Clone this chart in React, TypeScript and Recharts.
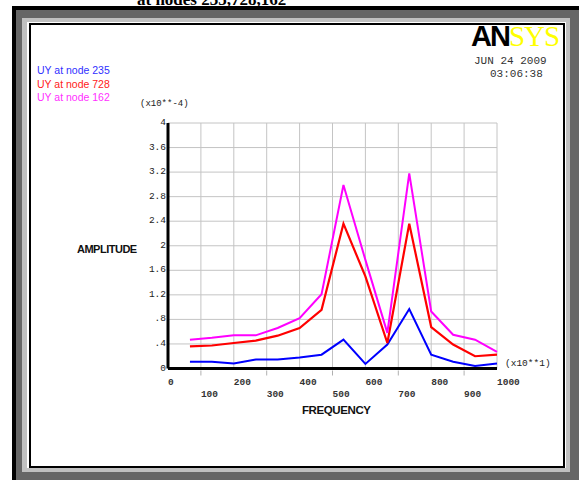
import { LineChart, Line, XAxis, YAxis, CartesianGrid } from 'recharts';

// frequency (x10**1)
const freq = [66.7, 133.3, 200, 266.7, 333.3, 400, 466.7, 533.3, 600, 666.7, 733.3, 800, 866.7, 933.3, 1000];
// amplitude (x10**-4)
const node235 = [0.11, 0.11, 0.08, 0.145, 0.145, 0.18, 0.225, 0.47, 0.075, 0.39, 0.97, 0.225, 0.11, 0.04, 0.08];
const node728 = [0.36, 0.375, 0.415, 0.455, 0.535, 0.66, 0.955, 2.36, 1.5, 0.415, 2.36, 0.675, 0.39, 0.2, 0.225];
const node162 = [0.47, 0.5, 0.54, 0.54, 0.66, 0.82, 1.21, 2.99, 1.77, 0.58, 3.18, 0.93, 0.55, 0.47, 0.27];

const xTicks = [0, 100, 200, 300, 400, 500, 600, 700, 800, 900, 1000];
const yTicks = [0, 0.4, 0.8, 1.2, 1.6, 2, 2.4, 2.8, 3.2, 3.6, 4];

const data = freq.map((f, i) => ({ freq: f, n235: node235[i], n728: node728[i], n162: node162[i] }));

const mono = '"Liberation Mono", "DejaVu Sans Mono", monospace';
const sans = '"Liberation Sans", Arial, sans-serif';

const XTick = (props: any) => {
  const { x, y, payload } = props;
  const odd = Math.round(payload.value / 100) % 2 === 1;
  return (
    <g>
      {odd && <line x1={x} x2={x} y1={y + 2} y2={y + 7} stroke="#b0b0b0" />}
      <text x={x} y={odd ? y + 28 : y + 16} textAnchor="start" fontFamily={mono} fontSize={9.5} fontWeight="bold" fill="#333">
        {payload.value}
      </text>
    </g>
  );
};

const fmtY = (v: number) => {
  const s = String(Math.round(v * 10) / 10);
  return s.startsWith('0.') ? s.slice(1) : s;
};

const YTick = (props: any) => {
  const { x, y, payload } = props;
  return (
    <text x={x} y={y + 2} textAnchor="end" fontFamily={mono} fontSize={9.5} fill="#222">
      {fmtY(payload.value)}
    </text>
  );
};

const abs = (left: number, top: number, extra: any = {}) => ({ position: 'absolute' as const, left, top, lineHeight: 1, whiteSpace: 'nowrap' as const, ...extra });

export default function App() {
  return (
    <div style={{ position: 'absolute', left: 0, top: 0, width: 579, height: 480, background: '#fff', overflow: 'hidden' }}>
      <div style={abs(137, -9, { fontFamily: '"Liberation Serif", serif', fontWeight: 'bold', fontSize: 17, color: '#000' })}>
        at nodes 235,728,162
      </div>
      {/* frame */}
      <div style={abs(12, 6, { width: 567, height: 474, background: '#000' })} />
      <div style={abs(16, 10, { width: 563, height: 470, background: '#666' })} />
      <div style={abs(22, 18, { width: 548, height: 454, background: '#c0c0c0' })} />
      <div style={abs(27, 22, { width: 539, height: 446, background: '#fff' })} />
      <div style={abs(29, 23, { width: 532, height: 441, border: '2px solid #000', background: '#fff' })} />

      {/* legend */}
      <div style={abs(37, 65, { fontFamily: sans, fontSize: 10.5, color: '#3030ff' })}>UY at node 235</div>
      <div style={abs(37, 78.5, { fontFamily: sans, fontSize: 10.5, color: '#ff2020' })}>UY at node 728</div>
      <div style={abs(37, 92, { fontFamily: sans, fontSize: 10.5, color: '#ff30ff' })}>UY at node 162</div>

      {/* logo + date */}
      <div style={abs(471, 22, { fontSize: 29 })}>
        <span style={{ fontFamily: sans, fontWeight: 900, color: '#000', letterSpacing: -2 }}>AN</span>
        <span style={{ fontFamily: '"Liberation Serif", serif', color: '#ffff00', letterSpacing: -1 }}>SYS</span>
      </div>
      <div style={abs(474, 56, { fontFamily: mono, fontSize: 11, color: '#333' })}>JUN 24 2009</div>
      <div style={abs(490, 69, { fontFamily: mono, fontSize: 11, color: '#333' })}>03:06:38</div>

      {/* axis annotations */}
      <div style={abs(140, 100, { fontFamily: mono, fontSize: 9, color: '#222' })}>(x10**-4)</div>
      <div style={abs(505, 358.5, { fontFamily: mono, fontSize: 9.5, color: '#222' })}>(x10**1)</div>
      <div style={abs(77, 243.5, { fontFamily: sans, fontSize: 11, fontWeight: 'bold', color: '#111', letterSpacing: -0.5 })}>AMPLITUDE</div>
      <div style={abs(302, 405, { fontFamily: sans, fontSize: 11.5, fontWeight: 'bold', color: '#111', letterSpacing: -0.4 })}>FREQUENCY</div>

      <div style={{ position: 'absolute', left: 0, top: 0 }}>
        <LineChart width={579} height={480} data={data} margin={{ top: 123, right: 82, bottom: 81.5, left: 128 }}>
          <CartesianGrid stroke="#c4c4c4" strokeWidth={1} />
          <XAxis
            dataKey="freq"
            type="number"
            domain={[0, 1000]}
            ticks={xTicks}
            interval={0}
            height={30}
            tickSize={0}
            tickMargin={0}
            tickLine={false}
            axisLine={{ stroke: '#000', strokeWidth: 3 }}
            tick={<XTick />}
          />
          <YAxis
            type="number"
            domain={[0, 4]}
            ticks={yTicks}
            interval={0}
            width={40}
            tickSize={0}
            tickMargin={2}
            tickLine={false}
            axisLine={{ stroke: '#000', strokeWidth: 3 }}
            tick={<YTick />}
          />
          <Line type="linear" dataKey="n235" stroke="#0000ff" strokeWidth={2} dot={false} isAnimationActive={false} />
          <Line type="linear" dataKey="n728" stroke="#ff0000" strokeWidth={2.2} dot={false} isAnimationActive={false} />
          <Line type="linear" dataKey="n162" stroke="#ff00ff" strokeWidth={2} dot={false} isAnimationActive={false} />
        </LineChart>
      </div>
    </div>
  );
}
